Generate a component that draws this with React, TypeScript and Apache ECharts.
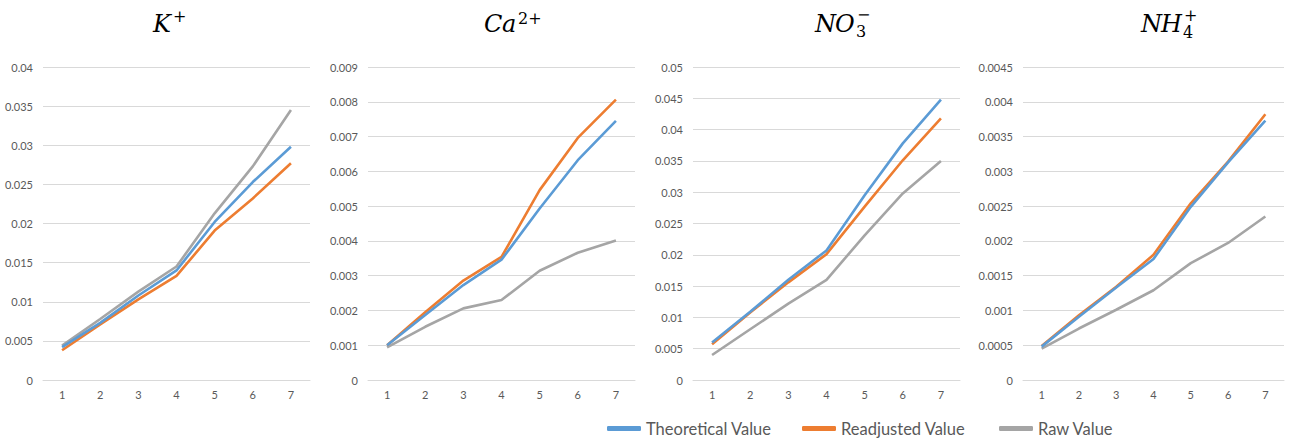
import React, { useEffect, useRef } from "react";
import * as echarts from "echarts";

const categories = ["1", "2", "3", "4", "5", "6", "7"];
const seriesNames = ["Theoretical Value", "Readjusted Value", "Raw Value"];
const seriesColors = ["#5B9BD5", "#ED7D31", "#A5A5A5"];

// K+
const kTheoretical = [0.0042, 0.0073, 0.0108, 0.014, 0.0202, 0.0253, 0.0298];
const kReadjusted = [0.0038, 0.0071, 0.0103, 0.0133, 0.0191, 0.0232, 0.0277];
const kRaw = [0.0044, 0.0078, 0.0113, 0.0145, 0.0213, 0.0273, 0.0345];
// Ca2+
const caTheoretical = [0.001, 0.00187, 0.00273, 0.00346, 0.00493, 0.00632, 0.00745];
const caReadjusted = [0.001, 0.00195, 0.00286, 0.00354, 0.00546, 0.00696, 0.00806];
const caRaw = [0.00094, 0.00153, 0.00206, 0.0023, 0.00314, 0.00366, 0.00401];
// NO3-
const no3Theoretical = [0.006, 0.0109, 0.016, 0.0207, 0.0295, 0.0378, 0.0448];
const no3Readjusted = [0.0057, 0.0108, 0.0156, 0.0201, 0.0277, 0.0351, 0.0418];
const no3Raw = [0.004, 0.0081, 0.0122, 0.016, 0.0231, 0.0298, 0.035];
// NH4+
const nh4Theoretical = [0.00048, 0.00091, 0.00133, 0.00174, 0.00249, 0.00313, 0.00373];
const nh4Readjusted = [0.00049, 0.00093, 0.00134, 0.0018, 0.00254, 0.00314, 0.00382];
const nh4Raw = [0.00045, 0.00074, 0.00101, 0.00129, 0.00168, 0.00197, 0.00235];

const yMax = [0.04, 0.009, 0.05, 0.0045];
const yInterval = [0.005, 0.001, 0.005, 0.0005];
const panelData = [
  [kTheoretical, kReadjusted, kRaw],
  [caTheoretical, caReadjusted, caRaw],
  [no3Theoretical, no3Readjusted, no3Raw],
  [nh4Theoretical, nh4Readjusted, nh4Raw],
];

const gridBoxes = [
  { left: 43, width: 267 },
  { left: 368, width: 267 },
  { left: 693, width: 267 },
  { left: 1023, width: 261 },
];

const labelFont = 'Lato, "Liberation Sans", sans-serif';
const serif = '"DejaVu Serif", "Liberation Serif", serif';

export default function App() {
  const ref = useRef<HTMLDivElement>(null);
  useEffect(() => {
    document.body.style.margin = "0";
    const chart = echarts.init(ref.current!, null, { renderer: "svg" });

    const grid = gridBoxes.map((g) => ({ left: g.left, width: g.width, top: 67, height: 313, containLabel: false }));
    const xAxis = gridBoxes.map((_, i) => ({
      type: "category",
      gridIndex: i,
      data: categories,
      boundaryGap: true,
      axisLine: { show: true, lineStyle: { color: "#D9D9D9", width: 1 } },
      axisTick: { show: false },
      axisLabel: { color: "#595959", fontSize: 11, fontFamily: labelFont, margin: 9 },
    }));
    const yAxis = gridBoxes.map((_, i) => ({
      type: "value",
      gridIndex: i,
      min: 0,
      max: yMax[i],
      interval: yInterval[i],
      axisLine: { show: false },
      axisTick: { show: false },
      splitLine: { show: true, lineStyle: { color: "#D9D9D9", width: 1 } },
      axisLabel: {
        color: "#595959",
        fontSize: 11,
        fontFamily: labelFont,
        margin: 10,
        formatter: (v: number) => String(Number(v.toFixed(6))),
      },
    }));
    const series: any[] = [];
    panelData.forEach((set, i) => {
      set.forEach((vals, j) => {
        series.push({
          type: "line",
          name: seriesNames[j],
          xAxisIndex: i,
          yAxisIndex: i,
          data: vals,
          symbol: "none",
          color: seriesColors[j],
          lineStyle: { width: 2.6, color: seriesColors[j] },
          z: 3 - j,
        });
      });
    });

    const legendLefts = [607, 802, 999];
    const legend = seriesNames.map((n, i) => ({
      data: [n],
      left: legendLefts[i],
      top: 420,
      padding: 0,
      icon: "roundRect",
      itemWidth: 34,
      itemHeight: 5,
      selectedMode: false,
      textStyle: { color: "#595959", fontSize: 16.5, fontFamily: labelFont },
    }));

    const t = (text: string, x: number, y: number, font: string) => ({
      type: "text",
      x,
      y,
      style: {
        text,
        font,
        fill: "#000000",
        textAlign: "left",
        textVerticalAlign: "middle",
        align: "left",
        verticalAlign: "middle",
      },
    });
    const base = "italic 24px " + serif;
    const small = "16px " + serif;
    const graphic = [
      t("K", 153, 23.5, base),
      t("+", 173, 16, small),
      t("C", 484, 23.5, base),
      t("a", 502, 23.5, base),
      t("2+", 518, 18.5, small),
      t("N", 815, 23.5, base),
      t("O", 835, 23.5, base),
      t("3", 856, 31.5, small),
      t("\u2212", 857, 14, small),
      t("N", 1141, 23.5, base),
      t("H", 1161, 23.5, base),
      t("4", 1183, 32, small),
      t("+", 1184, 15.5, small),
    ];

    chart.setOption({
      animation: false,
      backgroundColor: "#ffffff",
      grid,
      xAxis,
      yAxis,
      series,
      legend,
      graphic,
    } as any);
    return () => chart.dispose();
  }, []);
  return <div ref={ref} style={{ position: "fixed", left: 0, top: 0, width: 1295, height: 441 }} />;
}
